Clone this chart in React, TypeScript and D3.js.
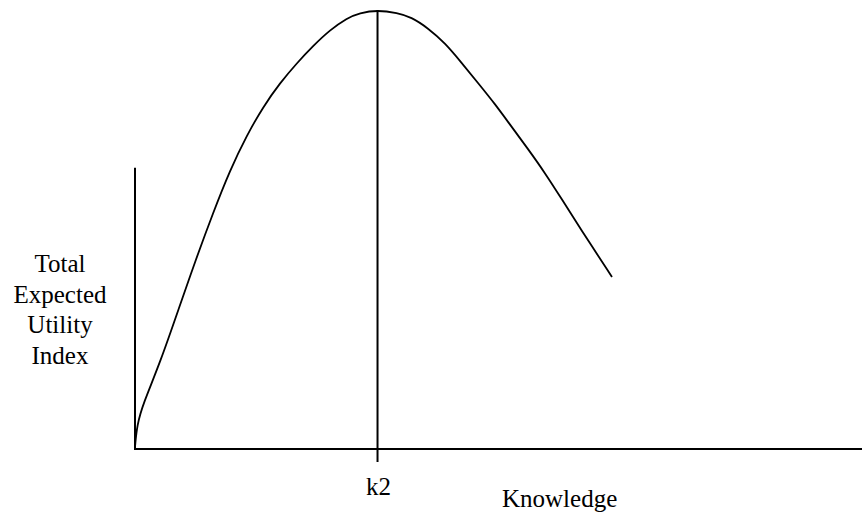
import React from "react";
import * as d3 from "d3";

const knowledge = [0, 0.28, 1.1, 3.44, 6.19, 8.25, 10.73, 13.07, 15.41, 17.61, 19.94, 22.28, 24.48, 26.82, 29.16, 30.88, 33.36, 36.11, 37.96, 40.3, 42.64, 44.84, 47.18, 49.52, 51.72, 54.06, 56.4, 58.6, 61.21, 65.61];
const utility = [0.46, 5.47, 10.25, 19.59, 32.8, 42.6, 53.76, 63.55, 71.53, 77.9, 83.37, 87.93, 91.8, 95.44, 98.18, 99.32, 100, 99.32, 98.41, 95.9, 92.48, 88.15, 83.37, 78.59, 73.58, 68.34, 62.87, 57.18, 50.34, 39.18];
const k2Value = 33.36;
const xTickLabels = ["k2"];
const xAxisTitle = "Knowledge";
const yAxisTitleLines = ["Total", "Expected", "Utility", "Index"];
const yAxisTop = 63.6;

const W = 862;
const H = 513;
const FONT = "Liberation Serif, Times New Roman, Times, serif";

export default function App() {
  const x = d3.scaleLinear().domain([0, 100]).range([135, 862]);
  const y = d3.scaleLinear().domain([0, 100]).range([449, 10]);
  const pts: [number, number][] = knowledge.map((k, i) => [k, utility[i]]);
  const line = d3
    .line<[number, number]>()
    .x((d) => x(d[0]))
    .y((d) => y(d[1]))
    .curve(d3.curveBasis);
  const x0 = x(0);
  const y0 = y(0);
  const xk = x(k2Value);
  return (
    <svg
      width={W}
      height={H}
      style={{ position: "absolute", left: 0, top: 0, background: "#fff" }}
    >
      <rect x={0} y={0} width={W} height={H} fill="#fff" />
      {/* y axis */}
      <line x1={x0} x2={x0} y1={y(yAxisTop) - 2} y2={y0 + 1} stroke="#000" strokeWidth={2} />
      {/* x axis */}
      <line x1={x0} x2={x(100)} y1={y0} y2={y0} stroke="#000" strokeWidth={2} />
      {/* k2 vertical line */}
      <line x1={xk} x2={xk} y1={y(100)} y2={y0 + 13} stroke="#000" strokeWidth={2} />
      {/* curve */}
      <path d={line(pts) || ""} fill="none" stroke="#000" strokeWidth={1.8} />
      {/* tick label */}
      <text x={xk + 1} y={495} textAnchor="middle" fontFamily={FONT} fontSize={25} fill="#000">
        {xTickLabels[0]}
      </text>
      <text x={502} y={507} textAnchor="start" fontFamily={FONT} fontSize={25} fill="#000">
        {xAxisTitle}
      </text>
      {yAxisTitleLines.map((t, i) => (
        <text key={t} x={60} y={272 + i * 30.5} textAnchor="middle" fontFamily={FONT} fontSize={25} fill="#000">
          {t}
        </text>
      ))}
    </svg>
  );
}
